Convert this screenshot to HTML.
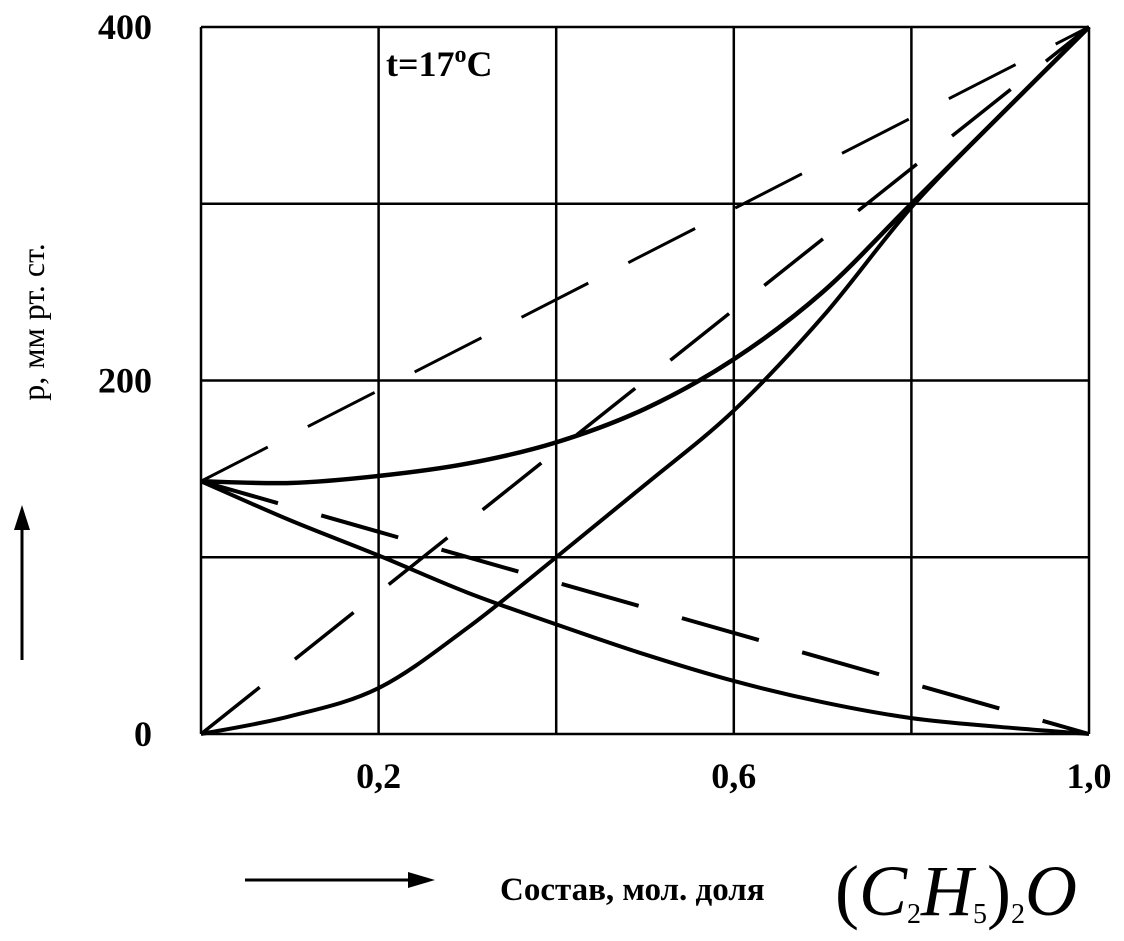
<!DOCTYPE html>
<html><head><meta charset="utf-8"><style>
body{margin:0;background:#fff;}
svg{display:block;font-family:"Liberation Serif",serif;}
</style></head><body>
<svg id="chart" width="1124" height="941" viewBox="0 0 1124 941">
<g id="grid"></g>
<g id="series"></g>
<g id="ticks"></g>
<text x="386" y="76" font-size="36" font-weight="bold">t=17<tspan font-size="24" dy="-14">o</tspan><tspan dy="14">C</tspan></text>
<text transform="translate(44,322) rotate(-90)" text-anchor="middle" font-size="32">p, мм рт. ст.</text>
<g><line x1="22" y1="660" x2="22" y2="525" stroke="#000" stroke-width="3"/><polygon points="22,505 14,530 30,530" fill="#000"/></g>
<g><line x1="245" y1="880" x2="410" y2="880" stroke="#000" stroke-width="3"/><polygon points="435,880 408,872 408,888" fill="#000"/></g>
<text x="500" y="900" font-size="33" font-weight="bold">Состав, мол. доля</text>
<text x="835" y="915" font-size="72" font-style="italic"><tspan font-style="normal">(</tspan>C<tspan font-size="28" font-style="normal" dy="8">2</tspan><tspan dy="-8">H</tspan><tspan font-size="28" font-style="normal" dy="8">5</tspan><tspan font-style="normal" dy="-8">)</tspan><tspan font-size="28" font-style="normal" dy="8">2</tspan><tspan dy="-8">O</tspan></text>
</svg>
<script>
const xGrid=[0,0.2,0.4,0.6,0.8,1.0];
const yGrid=[0,100,200,300,400];
const xTickLabels=[{v:0.2,t:"0,2"},{v:0.6,t:"0,6"},{v:1.0,t:"1,0"}];
const yTickLabels=[{v:0,t:"0"},{v:200,t:"200"},{v:400,t:"400"}];
const xs=[0,0.1,0.2,0.3,0.4,0.5,0.6,0.7,0.8,0.9,1.0];
const totalP=[143,142,146,153,165,184,212,250,300,350,400];
const etherP=[0,10,26,60,100,141,183,236,298,350,400];
const otherP=[143,121,101,80,62,45,30,18,9,4,0];
const idealTotal=[143,400];
const idealEther=[0,400];
const idealOther=[143,0];
const idealX=[0,1];
const X=v=>201+v*888, Y=v=>734-v*1.7675;
const NS="http://www.w3.org/2000/svg";
function mk(tag,attrs,parent){const e=document.createElementNS(NS,tag);for(const k in attrs)e.setAttribute(k,attrs[k]);parent.appendChild(e);return e;}
const g=document.getElementById('grid'),s=document.getElementById('series'),t=document.getElementById('ticks');
xGrid.forEach(v=>{const l=mk('line',{x1:X(v),x2:X(v),y1:Y(0),y2:Y(400),stroke:'#000','stroke-width':2.5},g);

});
yGrid.forEach(v=>{const l=mk('line',{x1:X(0),x2:X(1),y1:Y(v),y2:Y(v),stroke:'#000','stroke-width':2.5},g);

});
function curve(xa,ya,name,dash,w){
  let d='';
  if(xa.length>2){
    const p=xa.map((x,i)=>[X(x),Y(ya[i])]);
    d='M'+p[0];
    for(let i=0;i<p.length-1;i++){const p0=p[Math.max(0,i-1)],p1=p[i],p2=p[i+1],p3=p[Math.min(p.length-1,i+2)];
      const c1=[p1[0]+(p2[0]-p0[0])/6,p1[1]+(p2[1]-p0[1])/6],c2=[p2[0]-(p3[0]-p1[0])/6,p2[1]-(p3[1]-p1[1])/6];
      d+=' C'+c1+' '+c2+' '+p2;}
  } else d='M'+X(xa[0])+','+Y(ya[0])+' L'+X(xa[1])+','+Y(ya[1]);
  const e=mk('path',{d:d,fill:'none',stroke:'#000','stroke-width':w},s);
  if(dash)e.setAttribute('stroke-dasharray',dash);
  
  
}
curve(xs,totalP,'total-pressure-curve',null,4.5);
curve(xs,etherP,'ether-partial-pressure-curve',null,4);
curve(xs,otherP,'solvent-partial-pressure-curve',null,4);
curve(idealX,idealTotal,'ideal-total-pressure-line','75,45',3);
curve(idealX,idealEther,'ideal-ether-pressure-line','75,45',3.5);
curve(idealX,idealOther,'ideal-solvent-pressure-line','80,45',4);
xTickLabels.forEach(o=>{const e=mk('text',{x:X(o.v),y:788,'text-anchor':'middle','font-size':36,'font-weight':'bold'},t);e.textContent=o.t;

});
yTickLabels.forEach(o=>{const e=mk('text',{x:152,y:Y(o.v)+12,'text-anchor':'end','font-size':36,'font-weight':'bold'},t);e.textContent=o.t;

});
</script>
</body></html>
